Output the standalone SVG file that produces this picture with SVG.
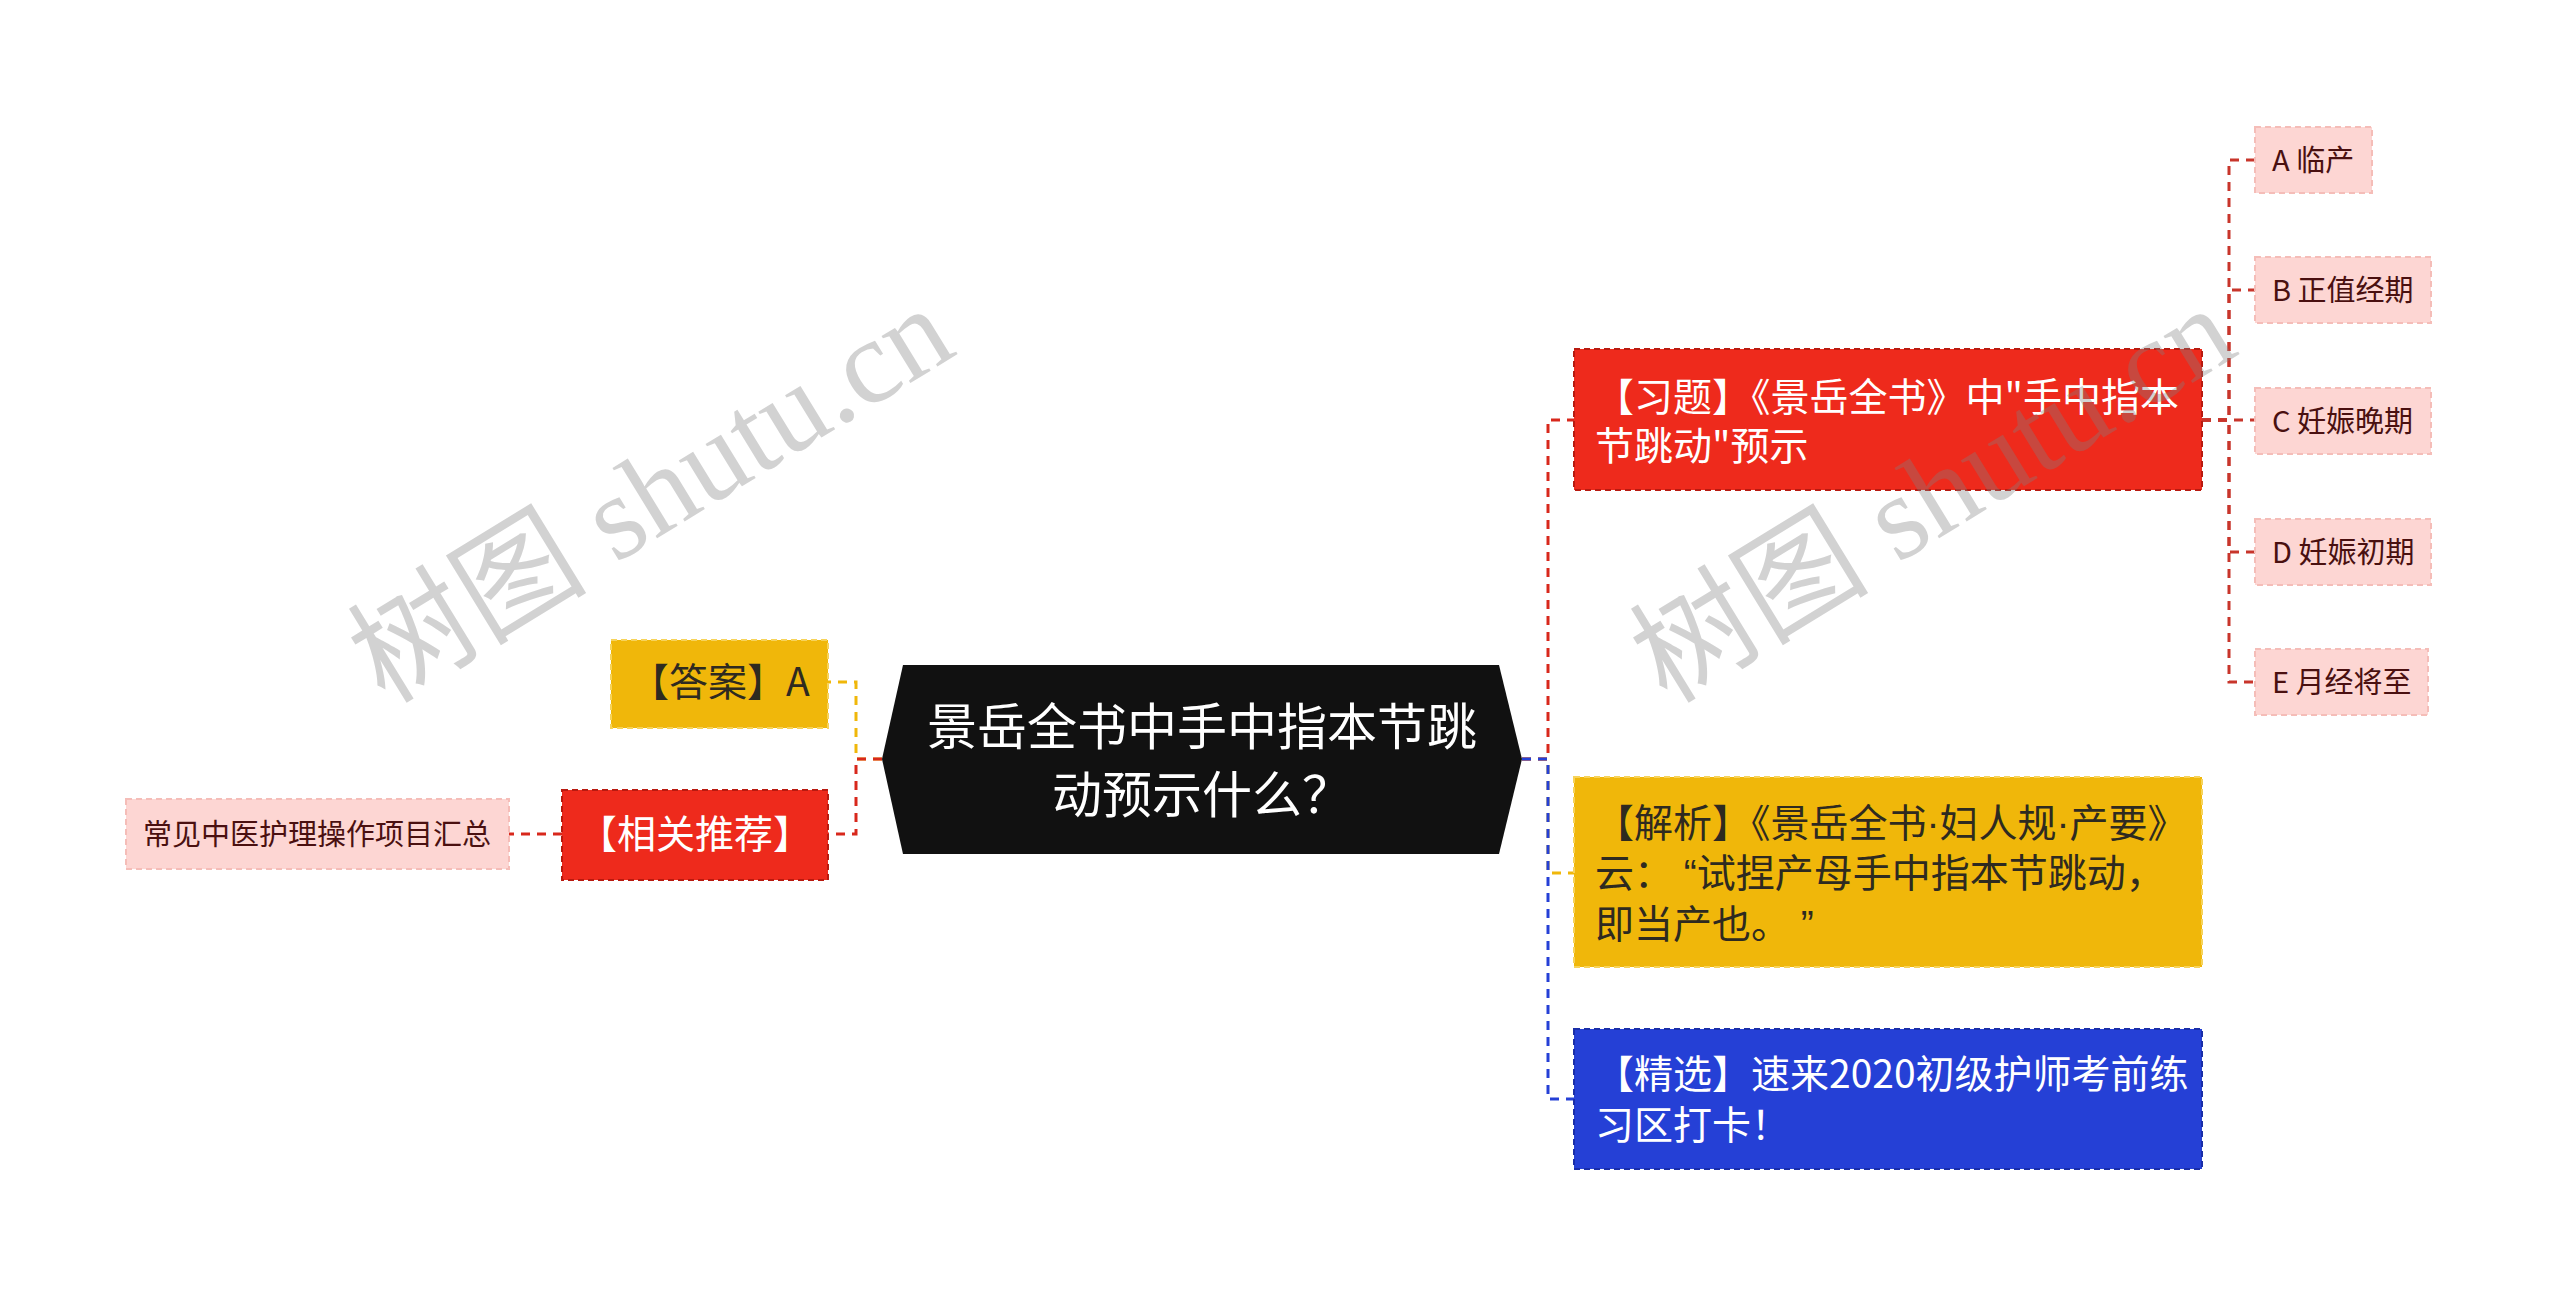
<svg xmlns="http://www.w3.org/2000/svg" width="2560" height="1294" viewBox="0 0 2560 1294">
<style>
.t{font-family:"Noto Sans CJK SC","Noto Sans",sans-serif}
.ta{font-family:"Liberation Sans","Noto Sans CJK SC",sans-serif}
.c{fill:none;stroke-width:3;stroke-dasharray:9 7}
.cr{stroke:#D8281C}.cy{stroke:#F0B70A}.cb{stroke:#2540D6}.cl{stroke:#C8352B}
.nr{fill:#EE2A1C;stroke:#B81A10;stroke-width:2;stroke-dasharray:6 4}
.ny{fill:#F0B70A;stroke:#F7D35A;stroke-width:2;stroke-dasharray:6 4}
.nb{fill:#2540D6;stroke:#1A2EA8;stroke-width:2;stroke-dasharray:6 4}
.nl{fill:#FDD6D3;stroke:#F5BDB8;stroke-width:2;stroke-dasharray:6 4}
.tw{fill:#FFFFFF;font-size:39px}
.td{fill:#2E2A20;font-size:39px}
.tl{fill:#4A1010;font-size:29px}
.wm{font-family:"Liberation Serif","Noto Sans CJK SC",serif;font-size:120px;fill:#808080;opacity:0.35}
</style>
<rect width="2560" height="1294" fill="#FFFFFF"/>
<g id="connectors">
<path class="c cy" d="M882 759 H856 V682 H828"/>
<path class="c cr" d="M882 759 H856 V834 H828"/>
<path class="c cr" d="M562 834 H509"/>
<path class="c cy" d="M1522 759 H1548 V873 H1574"/>
<path class="c cr" d="M1522 759 H1548 V420 H1574"/>
<path class="c cb" d="M1522 759 H1548 V1099 H1574"/>
<path class="c cl" d="M2202 420 H2229 V160 H2255"/>
<path class="c cl" d="M2202 420 H2229 V290 H2255"/>
<path class="c cl" d="M2202 420 H2255"/>
<path class="c cl" d="M2202 420 H2229 V552 H2255"/>
<path class="c cl" d="M2202 420 H2229 V682 H2255"/>
</g>
<g id="root">
<polygon points="882,759 903,665 1499,665 1522,759 1499,854 903,854" fill="#111111"/>
<text class="t" fill="#FFFFFF" font-size="50" text-anchor="middle"><tspan x="1202" y="745">景岳全书中手中指本节跳</tspan><tspan x="1202" y="813">动预示什么？</tspan></text>
</g>
<g id="answer">
<rect class="ny" x="611" y="640" width="217" height="88"/>
<text class="t td" x="630" y="696">【答案】A</text>
</g>
<g id="related">
<rect class="nr" x="562" y="790" width="266" height="90"/>
<text class="t tw" x="695" y="848" text-anchor="middle">【相关推荐】</text>
</g>
<g id="leaf-related">
<rect class="nl" x="126" y="799" width="383" height="70"/>
<text class="t tl" x="317" y="845" text-anchor="middle">常见中医护理操作项目汇总</text>
</g>
<g id="exercise">
<rect class="nr" x="1574" y="349" width="628" height="141"/>
<text class="t tw"><tspan x="1595" y="411">【习题】《景岳全书》中"手中指本</tspan><tspan x="1595" y="460">节跳动"预示</tspan></text>
</g>
<g id="analysis">
<rect class="ny" x="1574" y="777" width="628" height="190"/>
<text class="ta td"><tspan x="1595" y="837">【解析】《景岳全书·妇人规·产要》</tspan><tspan x="1595" y="887">云： “试捏产母手中指本节跳动，</tspan><tspan x="1595" y="938">即当产也。 ”</tspan></text>
</g>
<g id="featured">
<rect class="nb" x="1574" y="1029" width="628" height="140"/>
<text class="t tw"><tspan x="1595" y="1088">【精选】速来2020初级护师考前练</tspan><tspan x="1595" y="1139">习区打卡！</tspan></text>
</g>
<g id="optA">
<rect class="nl" x="2255" y="127" width="117" height="66"/>
<text class="t tl" x="2272" y="171">A 临产</text>
</g>
<g id="optB">
<rect class="nl" x="2255" y="257" width="176" height="66"/>
<text class="t tl" x="2272" y="301">B 正值经期</text>
</g>
<g id="optC">
<rect class="nl" x="2255" y="388" width="176" height="66"/>
<text class="t tl" x="2272" y="432">C 妊娠晚期</text>
</g>
<g id="optD">
<rect class="nl" x="2255" y="519" width="176" height="66"/>
<text class="t tl" x="2272" y="563">D 妊娠初期</text>
</g>
<g id="optE">
<rect class="nl" x="2255" y="649" width="173" height="66"/>
<text class="t tl" x="2272" y="693">E 月经将至</text>
</g>
<g id="watermarks">
<text class="wm" transform="translate(385 705) rotate(-31.5)">树图 shutu.cn</text>
<text class="wm" transform="translate(1667 705) rotate(-31.5)">树图 shutu.cn</text>
</g>
</svg>
